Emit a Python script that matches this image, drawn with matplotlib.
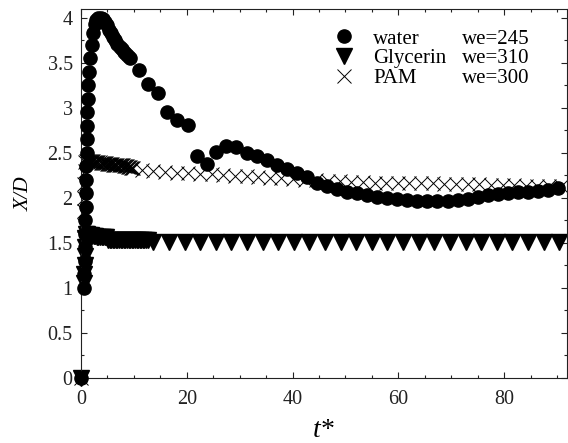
import matplotlib
matplotlib.use("Agg")
import matplotlib.pyplot as plt
from matplotlib.lines import Line2D
from matplotlib.ticker import MultipleLocator, FormatStrFormatter

plt.rcParams['font.family'] = ['Liberation Serif', 'DejaVu Serif']

# water, we=245
water_t = [0, 0.6, 0.65, 0.7, 0.75, 0.8, 0.85, 0.9, 0.95, 1.0, 1.0, 1.05, 1.05, 1.1, 1.15,
           1.25, 1.4, 1.55, 1.75, 2.0, 2.3, 2.6, 2.9, 3.3, 3.7, 4.1, 4.5, 4.9, 5.3, 5.7,
           6.1, 6.5, 6.9, 7.3, 7.7, 8.1, 8.5, 8.9, 9.3,
           11.0, 12.7, 14.5, 16.3, 18.1, 20.2, 21.9, 23.8, 25.6, 27.5, 29.4, 31.3, 33.2,
           35.1, 37.0, 38.9, 40.8, 42.7, 44.6, 46.5, 48.4, 50.3, 52.2, 54.1, 56.0, 57.9,
           59.8, 61.7, 63.6, 65.5, 67.4, 69.3, 71.2, 73.1, 75.0, 76.9, 78.8, 80.7, 82.6,
           84.5, 86.4, 88.3, 90.2]
water_y = [0, 1.0, 1.15, 1.3, 1.45, 1.6, 1.75, 1.9, 2.05, 2.2, 2.35, 2.5, 2.65, 2.8, 2.95,
           3.1, 3.25, 3.4, 3.55, 3.7, 3.83, 3.93, 3.98, 4.0, 4.0, 3.99, 3.96, 3.92, 3.87, 3.83,
           3.79, 3.75, 3.71, 3.68, 3.65, 3.62, 3.6, 3.58, 3.56,
           3.42, 3.27, 3.17, 2.96, 2.87, 2.81, 2.46, 2.38, 2.51, 2.58, 2.56, 2.50, 2.46,
           2.42, 2.37, 2.32, 2.28, 2.23, 2.17, 2.13, 2.10, 2.07, 2.05, 2.03, 2.01, 2.00,
           1.99, 1.98, 1.97, 1.97, 1.97, 1.97, 1.98, 1.99, 2.01, 2.03, 2.04, 2.05, 2.06,
           2.07, 2.08, 2.09, 2.11]

# Glycerin, we=310
gly_t = [0, 0.6, 0.65, 0.7, 0.75, 0.8, 0.85, 0.9,
         1.2, 1.5, 1.8, 2.1, 2.4, 2.7, 3.0, 3.3, 3.6, 3.9, 4.2, 4.5, 4.8,
         5.1, 5.4, 5.7, 6.0, 6.3, 6.6, 6.9, 7.2, 7.5, 7.8, 8.1, 8.4, 8.7, 9.0, 9.3,
         9.6, 9.9, 10.2, 10.5, 10.8, 11.1, 11.4, 11.7, 12.0, 12.3, 12.6,
         13.7, 16.65, 19.6, 22.55, 25.5, 28.45, 31.4, 34.35, 37.3, 40.25, 43.2, 46.15,
         49.1, 52.05, 55.0, 57.95, 60.9, 63.85, 66.8, 69.75, 72.7, 75.65, 78.6, 81.55,
         84.5, 87.45, 90.4]
gly_y = [0, 1.05, 1.15, 1.25, 1.35, 1.45, 1.55, 1.6,
         1.6, 1.59, 1.59, 1.58, 1.58, 1.58, 1.57, 1.57, 1.57, 1.57, 1.57, 1.57, 1.56,
         1.53, 1.53, 1.53, 1.53, 1.53, 1.53, 1.53, 1.53, 1.53, 1.53, 1.53, 1.53, 1.53, 1.53, 1.53,
         1.53, 1.53, 1.53, 1.53, 1.53, 1.53, 1.53, 1.53, 1.53, 1.53, 1.53,
         1.51, 1.51, 1.51, 1.51, 1.51, 1.51, 1.51, 1.51, 1.51, 1.51, 1.51, 1.51,
         1.51, 1.51, 1.51, 1.51, 1.51, 1.51, 1.51, 1.51, 1.51, 1.51, 1.51, 1.51,
         1.51, 1.51, 1.51]

# PAM, we=300
pam_t = [0, 0.5, 0.55, 0.6, 0.65, 0.7, 0.8,
         0.9, 1.1, 1.3, 1.5, 1.7, 1.9, 2.1, 2.3, 2.5, 2.7, 2.9, 3.1, 3.3, 3.5, 3.7, 3.9,
         4.1, 4.3, 4.5, 4.7, 4.9, 5.1, 5.3, 5.5, 5.7, 5.9, 6.1, 6.3, 6.5, 6.7, 6.9, 7.1,
         7.3, 7.5, 7.7, 7.9, 8.1, 8.3, 8.5, 8.7, 8.9, 9.1, 9.3, 9.5, 9.7, 9.9,
         11.5, 13.7, 15.9, 18.1, 20.3, 22.5, 24.7, 26.9, 29.1, 31.3, 33.5, 35.7, 37.9,
         40.1, 42.3, 44.5, 46.7, 48.9, 51.1, 53.3, 55.5, 57.7, 59.9, 62.1, 64.3, 66.5,
         68.7, 70.9, 73.1, 75.3, 77.5, 79.7, 81.9, 84.1, 86.3, 88.5, 90.7]
pam_y = [0, 1.7, 1.85, 2.0, 2.15, 2.3, 2.4,
         2.41, 2.41, 2.41, 2.41, 2.41, 2.41, 2.41, 2.41, 2.40, 2.40, 2.40, 2.40, 2.40, 2.40,
         2.39, 2.39, 2.39, 2.39, 2.39, 2.39, 2.38, 2.38, 2.38, 2.38, 2.38, 2.38,
         2.37, 2.37, 2.37, 2.37, 2.37, 2.36, 2.36, 2.36, 2.36, 2.36,
         2.35, 2.35, 2.35, 2.35, 2.34, 2.34, 2.34, 2.33, 2.33, 2.33,
         2.31, 2.30, 2.29, 2.28, 2.28, 2.27, 2.26, 2.25, 2.24, 2.24, 2.23, 2.22, 2.22,
         2.21, 2.20, 2.20, 2.19, 2.19, 2.18, 2.18, 2.17, 2.17, 2.17, 2.16, 2.16, 2.16,
         2.15, 2.15, 2.15, 2.15, 2.14, 2.14, 2.14, 2.13, 2.13, 2.13, 2.13]

series_names = ['water', 'Glycerin', 'PAM']
we_labels = ['we=245', 'we=310', 'we=300']

fig = plt.figure(figsize=(5.68, 4.43), dpi=100)
ax = fig.add_axes([0.1426, 0.1474, 0.8548, 0.8323])

h_w, = ax.plot(water_t, water_y, 'o', color='black', markersize=9.5, clip_on=False, zorder=3)
h_g, = ax.plot(gly_t, gly_y, 'v', color='black', markersize=11.5, clip_on=False, zorder=2)
h_p, = ax.plot(pam_t, pam_y, 'x', color='black', markersize=10, markeredgewidth=0.7,
               clip_on=False, zorder=2)

ax.set_xlim(0, 91.8)
ax.set_ylim(0, 4.1)
ax.xaxis.set_major_locator(MultipleLocator(20))
ax.xaxis.set_minor_locator(MultipleLocator(5))
ax.yaxis.set_major_locator(MultipleLocator(0.5))
ax.yaxis.set_minor_locator(MultipleLocator(0.25))
ax.yaxis.set_major_formatter(FormatStrFormatter('%g'))

ax.tick_params(which='both', direction='in', top=True, right=True,
               labelsize=14.5, colors='#222222', width=0.8)
ax.tick_params(which='major', length=4)
ax.tick_params(which='minor', length=2.5)
ax.tick_params(axis='x', which='major', pad=9)
ax.tick_params(axis='y', which='major', pad=6)
for s in ax.spines.values():
    s.set_linewidth(0.8)
    s.set_color('#222222')

ax.set_xlabel('t*', fontsize=20, fontstyle='italic', labelpad=6)
ax.set_ylabel('X/D', fontsize=15.5, fontstyle='italic', labelpad=10)

blank = Line2D([], [], linestyle='none')
ax.legend([h_w, h_g, h_p, blank, blank, blank], series_names + we_labels,
          ncol=2, frameon=False, loc='upper left', bbox_to_anchor=(0.49, 0.985),
          fontsize=15, handlelength=1.0, handletextpad=0.9, columnspacing=-1.15,
          labelspacing=0.0, borderpad=0.2)

fig.savefig('out.png', dpi=100)
